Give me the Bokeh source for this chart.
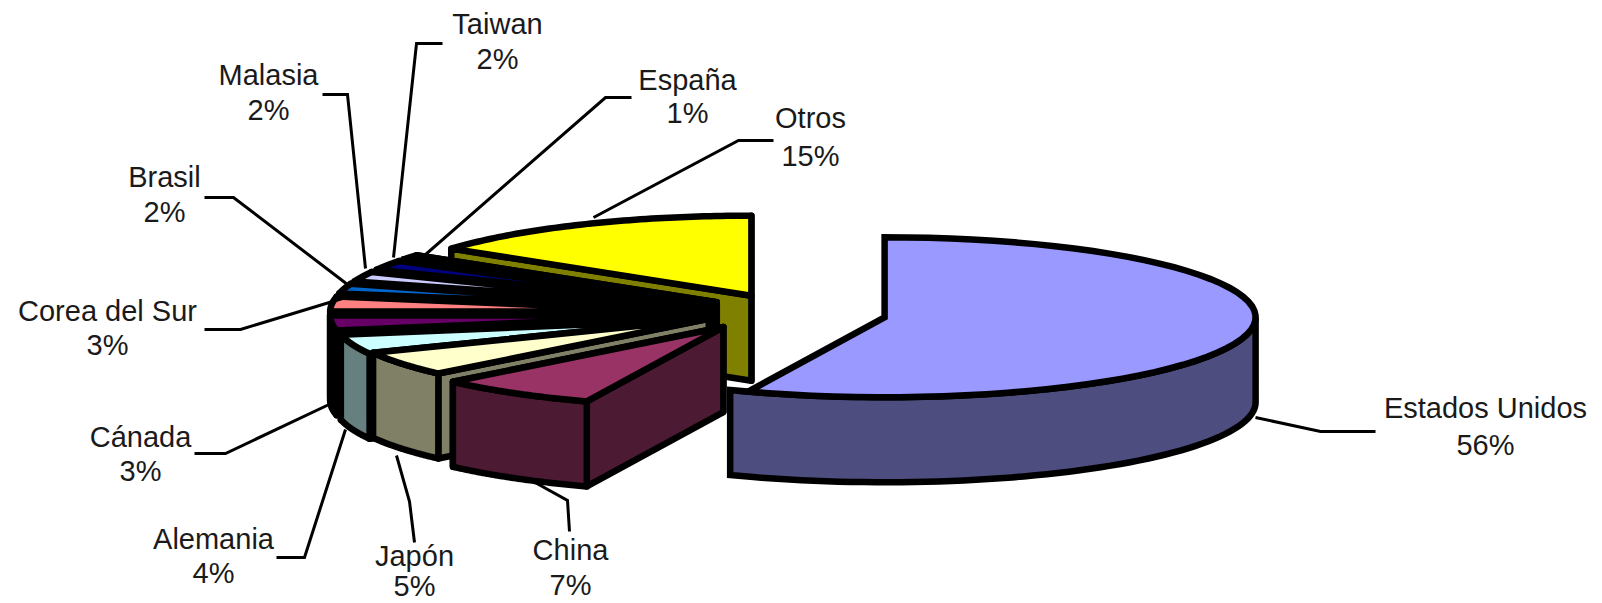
import numpy as np
from bokeh.plotting import figure
from bokeh.models import Range1d
from bokeh.core.properties import value
from bokeh.embed import file_html
from bokeh.resources import INLINE

paises = ["Estados Unidos", "China", "Japón", "Alemania", "Cánada", "Corea del Sur",
          "Brasil", "Malasia", "Taiwan", "España", "Otros"]
porcentajes = [56, 7, 5, 4, 3, 3, 2, 2, 2, 1, 15]
color_top = ["#9999FF", "#993366", "#FFFFCC", "#CCFFFF", "#660066", "#FF8080",
             "#0066CC", "#CCCCFF", "#000080", "#FF00FF", "#FFFF00"]
color_side = ["#4D4D80", "#4D1A33", "#808066", "#668080", "#330033", "#804040",
              "#003366", "#666680", "#000040", "#800080", "#808000"]

W, H = 1602, 603
RX, RY, DEPTH = 371, 80, 85
CX, CY, EXPL = 793, 313, 0.25
LW = 6.5
ajuste = {"China": (-18, -3), "Japón": (-8, -6)}

p = figure(width=W, height=H, output_backend="svg", toolbar_location=None,
           x_range=Range1d(0, W), y_range=Range1d(H, 0),
           min_border=0, outline_line_color=None)
p.axis.visible = False
p.grid.visible = False
p.background_fill_color = "white"


def pt(c, deg):
    t = np.radians(deg)
    return c[0] + RX * np.cos(t), c[1] - RY * np.sin(t)


def arc(c, a, b):
    return [pt(c, t) for t in np.linspace(a, b, 60)]


def poly(points, color, join="miter"):
    xs, ys = zip(*points)
    p.patch(list(xs), list(ys), fill_color=color, line_color="black",
            line_width=LW, line_join=join)


def dn(q):
    return (q[0], q[1] + DEPTH)


starts = []
acc = 90.0
for v in porcentajes:
    starts.append((acc, acc - v * 3.6))
    acc -= v * 3.6

for i in range(len(paises) - 1, -1, -1):
    a, b = starts[i]
    mid = np.radians((a + b) / 2)
    dx, dy = ajuste.get(paises[i], (0, 0))
    c = (CX + EXPL * RX * np.cos(mid) + dx, CY - EXPL * RY * np.sin(mid) + dy)
    join = "miter" if i == 0 else "round"
    if i > 0:
        # cut faces, the one further back first
        for ang in sorted((a, b), key=lambda g: pt(c, g)[1]):
            e = pt(c, ang)
            poly([c, e, dn(e), dn(c)], color_side[i], join)
    lo, hi = max(b, -180), min(a, 0)
    if i == 0:
        lo = b - 3
    if hi > lo:
        rim = arc(c, lo, hi)
        poly(rim + [dn(q) for q in rim[::-1]], color_side[i], join)
    poly([c] + arc(c, a, b), color_top[i], join)

# leader lines: label end, elbow, slice end, in page pixels
guias = {
    "Estados Unidos": [(1375, 431), (1320, 431), (1255, 417)],
    "China": [(569, 531), (567, 500), (531, 480)],
    "Japón": [(414, 542), (409, 501), (396, 455)],
    "Alemania": [(276, 557), (304, 557), (345, 429)],
    "Cánada": [(194, 453), (225, 453), (337, 400)],
    "Corea del Sur": [(204, 329), (240, 329), (342, 298)],
    "Brasil": [(204, 197), (233, 197), (347, 284)],
    "Malasia": [(322, 94), (347, 94), (365, 268)],
    "Taiwan": [(442, 43), (416, 43), (393, 257)],
    "España": [(631, 97), (605, 97), (424, 255)],
    "Otros": [(773, 140), (738, 140), (593, 217)],
}
p.multi_line([[q[0] for q in guias[n]] for n in paises],
             [[q[1] for q in guias[n]] for n in paises],
             line_color="black", line_width=3, line_join="miter")

# labels: centre x, name y, percent y, in page pixels
rotulos = {
    "Estados Unidos": (1485, 407, 444),
    "China": (570, 549, 584),
    "Japón": (414, 555, 585),
    "Alemania": (213, 538, 572),
    "Cánada": (140, 436, 470),
    "Corea del Sur": (107, 310, 344),
    "Brasil": (164, 176, 211),
    "Malasia": (268, 74, 109),
    "Taiwan": (497, 23, 58),
    "España": (687, 79, 112),
    "Otros": (810, 117, 155),
}
tx, ty, tt = [], [], []
for n, v in zip(paises, porcentajes):
    x, y1, y2 = rotulos[n]
    tx += [x, x]
    ty += [y1, y2]
    tt += [n, f"{v}%"]
p.text(x=tx, y=ty, text=tt, text_font=value("Liberation Sans"), text_font_size="29px",
       text_color="#1a1a1a", text_align="center", text_baseline="middle")

open("out.html", "w").write(file_html(p, INLINE))
